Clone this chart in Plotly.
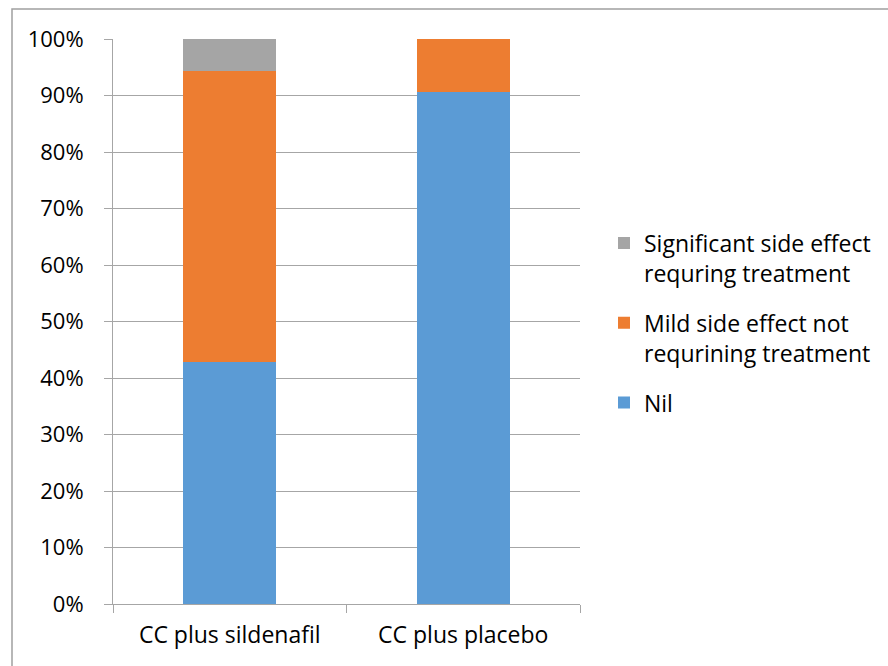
import plotly.graph_objects as go

# Side-effect profile per treatment arm (percent of patients)
groups = ["CC plus sildenafil", "CC plus placebo"]
nil = [42.9, 90.6]
mild = [51.4, 9.4]
significant = [5.7, 0.0]

series_names = [
    "Nil",
    "Mild side effect not<br>requrining treatment",
    "Significant side effect<br>requring treatment",
]
series_values = [nil, mild, significant]
series_colors = ["#5B9BD5", "#ED7D31", "#A5A5A5"]
legend_ranks = [3, 2, 1]

W, H = 888, 666
L, R, T, B = 113, 308, 39, 62
pw, ph = W - L - R, H - T - B

fig = go.Figure()
for i, (name, vals, col) in enumerate(zip(series_names, series_values, series_colors)):
    fig.add_trace(go.Bar(
        x=groups, y=vals, name=name, marker_color=col,
        marker_line_width=0, legendgroup=f"g{i}", legendrank=legend_ranks[i],
    ))

font = "Open Sans, Noto Sans, sans-serif"
fig.update_layout(
    width=W, height=H,
    margin=dict(l=L, r=R, t=T, b=B, pad=0),
    barmode="stack", bargap=0.6,
    plot_bgcolor="white", paper_bgcolor="white",
    font=dict(family=font, size=22, color="#000000"),
    showlegend=True,
    legend=dict(
        x=(604 - L) / pw, xanchor="left",
        y=(604 - 323) / ph, yanchor="middle",
        traceorder="grouped", tracegroupgap=17, valign="top",
        font=dict(family=font, size=23, color="#000000"),
        bgcolor="rgba(0,0,0,0)",
    ),
    xaxis=dict(
        type="category", showgrid=False,
        showline=True, linecolor="#A6A6A6", linewidth=1,
        ticks="outside", tickson="boundaries", ticklen=8,
        tickcolor="#A6A6A6", ticklabelstandoff=10,
        tickfont=dict(size=23),
    ),
    yaxis=dict(
        range=[0, 100], dtick=10, ticksuffix="%",
        showgrid=True, gridcolor="#A6A6A6", gridwidth=1,
        showline=True, linecolor="#A6A6A6", linewidth=1,
        ticks="outside", ticklen=8, tickcolor="#A6A6A6",
        ticklabelstandoff=16, zeroline=False,
    ),
)

# Chart-area frame (left and top edges)
fig.add_shape(
    type="path", xref="paper", yref="paper",
    path=f"M {(12 - L) / pw},{(604 - 700) / ph} L {(12 - L) / pw},{(604 - 9) / ph} "
         f"L {(900 - L) / pw},{(604 - 9) / ph}",
    line=dict(color="#A0A0A0", width=1.5),
)

fig.write_html("out.html")
